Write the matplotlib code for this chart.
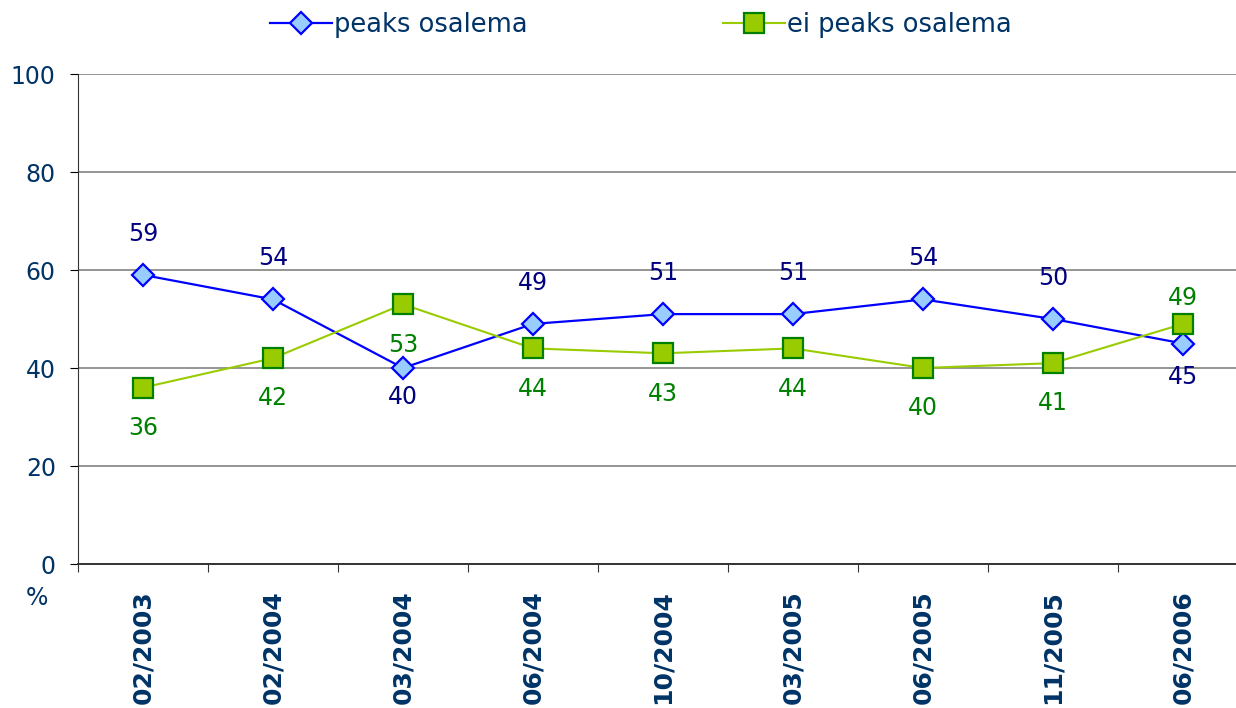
import matplotlib
matplotlib.use("Agg")
import matplotlib.pyplot as plt

# survey rounds and shares (%)
periods = ["02/2003", "02/2004", "03/2004", "06/2004", "10/2004",
           "03/2005", "06/2005", "11/2005", "06/2006"]
peaks = [59, 54, 40, 49, 51, 51, 54, 50, 45]
ei_peaks = [36, 42, 53, 44, 43, 44, 40, 41, 49]

# vertical label offsets in points (negative = below the point)
peaks_off = [29.5, 29.5, -21, 29.5, 29.5, 29.5, 29.5, 29.5, -24]
ei_off = [-29, -29, -29.5, -29, -29, -29, -29, -29, 19]

txt_col = "#003366"

fig = plt.figure(figsize=(12.36, 7.08), dpi=100)
ax = fig.add_axes([78 / 1236, 1 - 564 / 708, 1170 / 1236, 490 / 708])

x = list(range(len(periods)))
ax.plot(x, peaks, color="#0000FF", lw=1.6, marker="D", markersize=11.5,
        markerfacecolor="#99CCFF", markeredgecolor="#0000FF", markeredgewidth=1.6,
        label="peaks osalema", zorder=3)
ax.plot(x, ei_peaks, color="#99CC00", lw=1.5, marker="s", markersize=14,
        markerfacecolor="#99CC00", markeredgecolor="#008000", markeredgewidth=1.6,
        label="ei peaks osalema", zorder=3)

for xi, v, off in zip(x, peaks, peaks_off):
    ax.annotate(str(v), (xi, v), xytext=(0, off),
                textcoords="offset points", ha="center", va="center",
                fontsize=17, color="#000080")
for xi, v, off in zip(x, ei_peaks, ei_off):
    ax.annotate(str(v), (xi, v), xytext=(0, off),
                textcoords="offset points", ha="center", va="center",
                fontsize=17, color="#008000")

ax.set_xlim(-0.5, len(periods) - 0.5)
ax.set_ylim(0, 100)
ax.set_yticks([0, 20, 40, 60, 80, 100])
ax.grid(axis="y", color="#8c8c8c", lw=1.3)
ax.set_axisbelow(True)

ax.set_xticks([i - 0.5 for i in range(len(periods) + 1)])
ax.set_xticklabels([])
ax.set_xticks(x, minor=True)
ax.set_xticklabels(periods, minor=True, rotation=90, fontsize=18,
                   fontweight="bold", color=txt_col, va="top")
ax.tick_params(axis="x", which="minor", length=0, pad=19)
ax.tick_params(axis="x", which="major", length=6, color="#333333")
ax.tick_params(axis="y", length=6, labelsize=17, labelcolor=txt_col, pad=10)

for s in ["top", "right"]:
    ax.spines[s].set_visible(False)
ax.spines["left"].set_color("#333333")
ax.spines["bottom"].set_color("#333333")
ax.spines["bottom"].set_linewidth(1.4)

fig.text(37 / 1236, 1 - 598 / 708, "%", fontsize=17, color=txt_col,
         ha="center", va="center")

fig.legend(loc="center", bbox_to_anchor=(641 / 1236, 1 - 25 / 708), ncol=2,
           frameon=False, fontsize=18.5, labelcolor=txt_col, columnspacing=7.6,
           handlelength=2.4, handletextpad=0.1)

fig.savefig("out.png", dpi=100)
